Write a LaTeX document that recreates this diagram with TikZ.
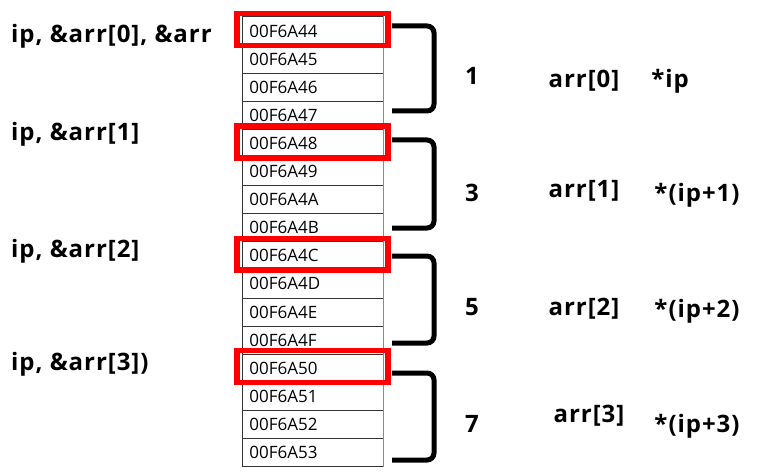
\documentclass[tikz,border=0pt]{standalone}
\usepackage{fontspec}
\setmainfont{Open Sans}
\newfontfamily\lblfont[LetterSpace=4]{Open Sans Bold}
\usetikzlibrary{calc}
\definecolor{boxred}{RGB}{255,0,0}
\tikzset{
	cell/.style={draw=black!80, line width=0.8pt, anchor=north west, minimum width=140.5pt, minimum height=28.1pt, text width=126pt, inner xsep=7.5pt, inner ysep=0pt, align=left, font=\fontsize{17}{19}\selectfont},
	redbox/.style={draw=boxred, line width=5.5pt},
	brace/.style={draw=black, line width=5pt, rounded corners=7pt},
	lbl/.style={font=\fontsize{24}{28}\lblfont, inner sep=0pt}
}

\begin{document}
\begin{tikzpicture}[x=1pt, y=-1pt]
		\useasboundingbox (0, 0) rectangle (758, 476);
		% memory cells
		\node(c0)[cell] at (241.5, 16.5) {00F6A44};
		\node(c1)[cell] at (241.5, 44.6) {00F6A45};
		\node(c2)[cell] at (241.5, 72.7) {00F6A46};
		\node(c3)[cell] at (241.5, 100.8) {00F6A47};
		\node(c4)[cell] at (241.5, 128.9) {00F6A48};
		\node(c5)[cell] at (241.5, 157.0) {00F6A49};
		\node(c6)[cell] at (241.5, 185.1) {00F6A4A};
		\node(c7)[cell] at (241.5, 213.2) {00F6A4B};
		\node(c8)[cell] at (241.5, 241.3) {00F6A4C};
		\node(c9)[cell] at (241.5, 269.4) {00F6A4D};
		\node(c10)[cell] at (241.5, 297.5) {00F6A4E};
		\node(c11)[cell] at (241.5, 325.6) {00F6A4F};
		\node(c12)[cell] at (241.5, 353.7) {00F6A50};
		\node(c13)[cell] at (241.5, 381.8) {00F6A51};
		\node(c14)[cell] at (241.5, 409.9) {00F6A52};
		\node(c15)[cell] at (241.5, 438.0) {00F6A53};
		\draw[black!45, line width=1.2pt] (c0.north east) -- (c15.south east);
		% red frames
		\draw[redbox] ($(c0.north west)+(-4.5, -3)$) rectangle ($(c0.south east)+(4.5, 0)$);
		\draw[redbox] ($(c4.north west)+(-4.5, -3)$) rectangle ($(c4.south east)+(4.5, 0)$);
		\draw[redbox] ($(c8.north west)+(-4.5, -3)$) rectangle ($(c8.south east)+(4.5, 0)$);
		\draw[redbox] ($(c12.north west)+(-4.5, -3)$) rectangle ($(c12.south east)+(4.5, 0)$);
		% brackets
		\draw[brace] (392, 26) -- (434, 26) -- (434, 111) -- (392, 111);
		\draw[brace] (392, 140) -- (434, 140) -- (434, 228) -- (392, 228);
		\draw[brace] (392, 256) -- (434, 256) -- (434, 343) -- (392, 343);
		\draw[brace] (392, 373) -- (434, 373) -- (434, 460) -- (392, 460);
		% left labels
		\node(p0)[lbl, anchor=west] at (11, 36) {ip, \&arr[0], \&arr};
		\node(p1)[lbl, anchor=west] at (11, 134) {ip, \&arr[1]};
		\node(p2)[lbl, anchor=west] at (11, 251) {ip, \&arr[2]};
		\node(p3)[lbl, anchor=west] at (11, 364) {ip, \&arr[3])};
		% values
		\node(v0)[lbl] at (472, 76) {1};
		\node(v1)[lbl] at (472, 193) {3};
		\node(v2)[lbl] at (472, 307) {5};
		\node(v3)[lbl] at (472, 424) {7};
		\node(a0)[lbl] at (584, 81) {arr[0]};
		\node(a1)[lbl] at (584, 191) {arr[1]};
		\node(a2)[lbl] at (584, 309) {arr[2]};
		\node(a3)[lbl] at (589, 416) {arr[3]};
		\node(d0)[lbl] at (670, 81) {*ip};
		\node(d1)[lbl] at (697, 195) {*(ip+1)};
		\node(d2)[lbl] at (697, 311) {*(ip+2)};
		\node(d3)[lbl] at (697, 426) {*(ip+3)};
		\end{tikzpicture}
\end{document}
